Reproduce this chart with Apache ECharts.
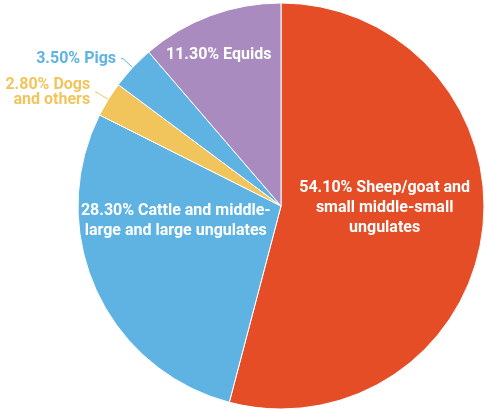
<!DOCTYPE html>
<html>
<head>
<meta charset="utf-8">
<script src="https://cdn.jsdelivr.net/npm/echarts@6/dist/echarts.min.js"></script>
<style>
    html, body {margin: 0; padding: 0; background: #fff;}
    #chart {width: 486px; height: 412px;}
</style>
</head>
<body>
<div id="chart"></div>
<script>
// shares of animal remains, clockwise from 12 o'clock
const names = [
    "Sheep/goat and\nsmall middle-small\nungulates",
    "Cattle and middle-\nlarge and large ungulates",
    "Dogs\nand others",
    "Pigs",
    "Equids"
];
const shares = [54.10, 28.30, 2.80, 3.50, 11.30];
const colors = ["#E44D26", "#5EB3E3", "#F2C55C", "#5EB3E3", "#A98BBF"];

const chart = echarts.init(document.getElementById("chart"));

// per-slice label tweaks: inside text for big slices, outside for the thin ones
const labelStyle = [
    {position: "inside", offset: [0, -11], color: "#fff"},
    {position: "inside", offset: [-10, -28], color: "#fff"},
    {position: "outside", color: colors[2], align: "right", lineHeight: 15},
    {position: "outside", color: colors[3], align: "right"},
    {position: "inside", offset: [-26, -53], color: "#fff"}
];

const data = names.map((n, i) => ({
    name: n,
    value: shares[i],
    itemStyle: {color: colors[i]},
    label: labelStyle[i],
    labelLine: {show: labelStyle[i].position === "outside", lineStyle: {color: colors[i], width: 1}}
}));

chart.setOption({
    animation: false,
    series: [{
        type: "pie",
        center: [281, 206],
        radius: 203,
        startAngle: 90,
        clockwise: true,
        avoidLabelOverlap: false,
        itemStyle: {borderColor: "#fff", borderWidth: 1},
        label: {
            show: true,
            fontFamily: "Roboto",
            fontWeight: "bold",
            fontSize: 16,
            lineHeight: 20,
            formatter: (p) => p.value.toFixed(2) + "% " + p.name
        },
        labelLine: {length: 13, length2: 2},
        data: data
    }]
});
</script>
</body>
</html>
